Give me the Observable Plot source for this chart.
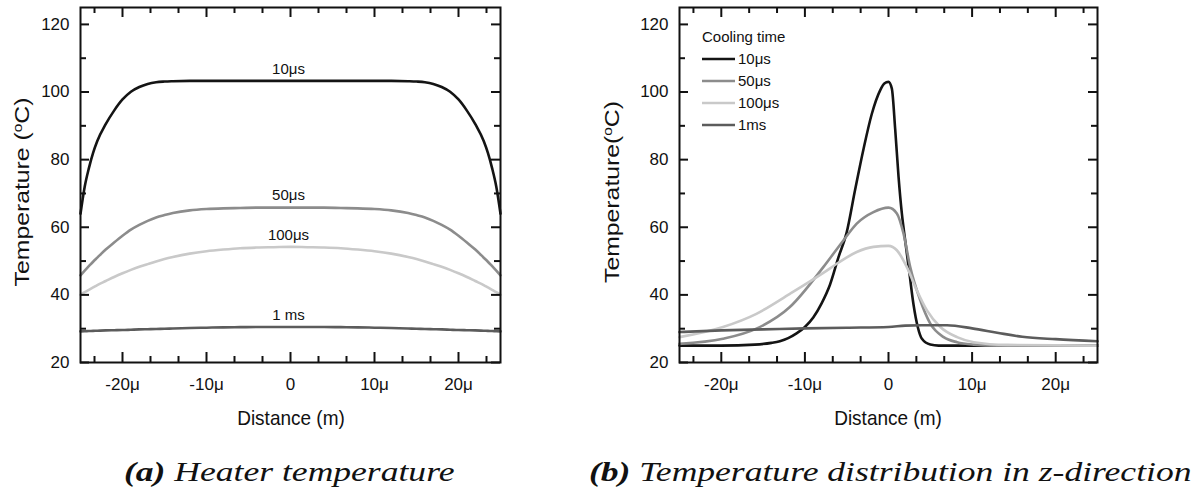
<!DOCTYPE html>
<html><head><meta charset="utf-8">
<script src="https://cdn.jsdelivr.net/npm/d3@7"></script>
<script src="https://cdn.jsdelivr.net/npm/@observablehq/plot@0.6"></script>
<style>
body{margin:0;background:#fff;}
#wrap{position:relative;width:1194px;height:488px;overflow:hidden;font-family:"Liberation Sans",Arial,sans-serif;}
.panel{position:absolute;top:0;}
#caps{position:absolute;left:0;top:440px;}
</style></head><body>
<div id="wrap">
<div class="panel" id="pa" style="left:0"></div>
<div class="panel" id="pb" style="left:597px"></div>
<svg id="caps" width="1194" height="48" font-family="'Liberation Serif', serif" font-style="italic" font-size="28" fill="#111">
  <text transform="translate(124,41) scale(1.27,1)"><tspan font-weight="bold">(a)</tspan> Heater temperature</text>
  <text transform="translate(589,41) scale(1.27,1)"><tspan font-weight="bold">(b)</tspan> Temperature distribution in z-direction</text>
</svg>
</div>
<script>
// ---------- data ----------
const seriesNames = ["10μs", "50μs", "100μs", "1ms"];
const curveLabels = ["10μs", "50μs", "100μs", "1 ms"];
const seriesColors = ["#141414", "#8c8c8c", "#c9c9c9", "#5c5c5c"];

// (a) heater temperature
const xHeater = [-25,-24.5,-24,-23.5,-23,-22,-21,-20,-19,-18,-17,-16,-15,-14,-12,-10,-8,-6,-4,-2,0,2,4,6,8,10,12,14,15,16,17,18,19,20,21,22,23,23.5,24,24.5,25];
const heater10 = [64,72,77.5,82,85.5,90.5,94.5,97.8,100.1,101.5,102.4,102.9,103.1,103.2,103.3,103.3,103.3,103.3,103.3,103.3,103.3,103.3,103.3,103.3,103.3,103.3,103.3,103.2,103.1,102.9,102.4,101.5,100.1,97.8,94.5,90.5,85.5,82,77.5,72,64];
const heater50 = [45.8,47.2,48.5,49.8,51,53.4,55.5,57.5,59.3,60.7,61.9,62.9,63.6,64.2,65,65.4,65.6,65.7,65.8,65.8,65.8,65.8,65.8,65.7,65.6,65.4,65,64.2,63.6,62.9,61.9,60.7,59.3,57.5,55.5,53.4,51,49.8,48.5,47.2,45.8];
const heater100 = [40,40.8,41.5,42.2,42.9,44.1,45.3,46.4,47.4,48.3,49.1,49.9,50.6,51.2,52.2,52.9,53.4,53.8,54,54.1,54.2,54.1,54,53.8,53.4,52.9,52.2,51.2,50.6,49.9,49.1,48.3,47.4,46.4,45.3,44.1,42.9,42.2,41.5,40.8,40];
const heater1ms = [29.2,29.25,29.3,29.35,29.4,29.5,29.55,29.6,29.7,29.8,29.85,29.9,30,30.05,30.2,30.3,30.4,30.45,30.5,30.5,30.5,30.5,30.5,30.45,30.4,30.3,30.2,30.05,30,29.9,29.85,29.8,29.7,29.6,29.55,29.5,29.4,29.35,29.3,29.25,29.2];

// (b) z-direction
const z10x = [-25,-20,-16,-14,-13,-12,-11,-10,-9,-8,-7,-6,-5,-4,-3,-2,-1,-0.5,0,0.4,0.8,1.2,1.6,2,2.5,3,3.5,4,5,6,25];
const z10y = [25,25,25.3,25.8,26.3,27.2,28.6,30.5,33.3,37.5,43,51,58.5,71,83,93.5,100.5,102.5,103,101,89,75,64,56,46.5,37,30.5,27,25.3,25,25];
const z50x = [-25,-19.8,-15.8,-11.8,-7.8,-5.4,-3.8,-1.8,0,1,1.8,2.6,3.8,5,6.6,8.2,10.2,13,25];
const z50y = [25.5,27,30,36.4,48.2,56.1,61.1,64.5,65.8,64.1,58.1,48.2,38.4,31.5,27.5,26,25.3,25,25];
const z100x = [-25,-19.8,-15.8,-11.8,-7.8,-6,-3.8,-1.8,0,1,2.2,3.4,4.6,6.2,8.2,10.2,14.2,25];
const z100y = [27.5,30.5,34.4,40.3,46.5,49.5,52.7,54.2,54.5,53.2,48.2,41.3,35.4,30.5,27.5,26,25.2,25];
const z1x = [-25,-20,-15,-10,-5,0,2,4,7,10,13,16,20,25];
const z1y = [29,29.5,29.8,30.1,30.3,30.5,30.9,31,31,30.1,28.8,27.6,26.9,26.3];

// ticks
const xMajor = [-20,-10,0,10,20];
const xMinor = [-23.333,-16.667,-13.333,-6.667,-3.333,3.333,6.667,13.333,16.667,23.333];
const yMajor = [20,40,60,80,100,120];
const yMinor = [30,50,70,90,110];
const xTickFmt = d => d === 0 ? "0" : `${d}μ`;

// ---------- build ----------
function rows(xs, ys, name) { return xs.map((x, i) => ({x, y: ys[i], s: name})); }

const heaterData = [
  ...rows(xHeater, heater10, seriesNames[0]),
  ...rows(xHeater, heater50, seriesNames[1]),
  ...rows(xHeater, heater100, seriesNames[2]),
  ...rows(xHeater, heater1ms, seriesNames[3])
];
const zData = [
  ...rows(z10x, z10y, seriesNames[0]),
  ...rows(z50x, z50y, seriesNames[1]),
  ...rows(z100x, z100y, seriesNames[2]),
  ...rows(z1x, z1y, seriesNames[3])
];
const heaterLabels = curveLabels.map((t, i) => {
  const arr = [heater10, heater50, heater100, heater1ms][i];
  return {t, x: 0, y: arr[xHeater.indexOf(0)]};
});

const W = 597, H = 440, MT = 7, MB = 78, MR = 97;
const XD = [-25, 25], YD = [20, 125];

function axes(ml) {
  const fw = W - ml - MR, fh = H - MT - MB;
  const ux = (XD[1] - XD[0]) / fw, uy = (YD[1] - YD[0]) / fh; // data units per pixel
  const sw = 2, st = "#111";
  const xt = (ticks, len, bottom) => Plot.ruleX(ticks, {
    x: d => d,
    y1: bottom ? YD[0] : YD[1],
    y2: bottom ? YD[0] + len * uy : YD[1] - len * uy,
    stroke: st, strokeWidth: sw
  });
  const yt = (ticks, len, left) => Plot.ruleY(ticks, {
    y: d => d,
    x1: left ? XD[0] : XD[1],
    x2: left ? XD[0] + len * ux : XD[1] - len * ux,
    stroke: st, strokeWidth: sw
  });
  return [
    xt(xMajor, 10, true), xt(xMinor, 6, true), xt(xMajor, 10, false), xt(xMinor, 6, false),
    yt(yMajor, 9, true), yt(yMinor, 6, true), yt(yMajor, 9, false), yt(yMinor, 6, false),
    Plot.axisX(xMajor, {anchor: "bottom", tickSize: 0, tickPadding: 15, tickFormat: xTickFmt, label: null, fontSize: 17}),
    Plot.axisY(yMajor, {anchor: "left", tickSize: 0, tickPadding: 11, label: null, fontSize: 17}),
    Plot.frame({stroke: st, strokeWidth: 2})
  ];
}

function panel(data, marginLeft, extra) {
  return Plot.plot({
    width: W, height: H,
    marginLeft, marginRight: MR, marginTop: MT, marginBottom: MB,
    style: {fontFamily: "'Liberation Sans', Arial, sans-serif", fontSize: "17px", color: "#111", background: "white"},
    x: {domain: XD, axis: null},
    y: {domain: YD, axis: null},
    color: {domain: seriesNames, range: seriesColors},
    marks: [
      Plot.line(data, {x: "x", y: "y", z: "s", stroke: "s", strokeWidth: 2.6, curve: "monotone-x"}),
      ...extra,
      ...axes(marginLeft)
    ]
  });
}

function addLabels(svg, ylabelX, compact, xCenter) {
  const s = d3.select(svg);
  const yl = s.append("text")
    .attr("transform", `translate(${ylabelX},192) rotate(-90) scale(1.18,1)`)
    .attr("text-anchor", "middle").attr("font-size", 21).attr("fill", "#111");
  yl.append("tspan").text(compact ? "Temperature(" : "Temperature (");
  yl.append("tspan").attr("baseline-shift", "super").attr("font-size", 13).text("o");
  yl.append("tspan").text("C)");
  s.append("text").attr("transform", `translate(${xCenter},425) scale(1,1.1)`)
    .attr("text-anchor", "middle").attr("font-size", 19).attr("fill", "#111").text("Distance (m)");
}

const svgA = panel(heaterData, 80, [
  Plot.text(heaterLabels, {x: "x", y: "y", text: "t", dy: -12, dx: -2, fontSize: 15, fill: "#111"})
]);
addLabels(svgA, 29, false, 291);
document.getElementById("pa").appendChild(svgA);

const svgB = panel(zData, 82, []);
addLabels(svgB, 22, true, 291);
// legend
const lg = d3.select(svgB).append("g").attr("font-size", 15).attr("fill", "#111").attr("text-anchor", "start");
lg.append("text").attr("x", 105).attr("y", 42).text("Cooling time");
seriesNames.forEach((n, i) => {
  const y = 59 + i * 22;
  lg.append("line").attr("x1", 105).attr("x2", 138).attr("y1", y).attr("y2", y)
    .attr("stroke", seriesColors[i]).attr("stroke-width", 2.6);
  lg.append("text").attr("x", 141).attr("y", y + 5).text(n);
});
document.getElementById("pb").appendChild(svgB);
</script>
</body></html>
